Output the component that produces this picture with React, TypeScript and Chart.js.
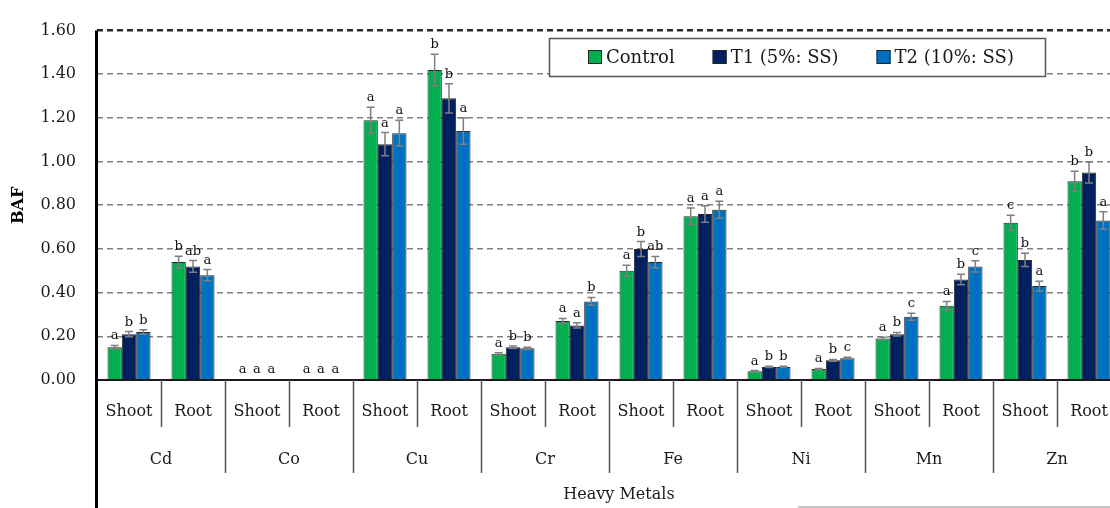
import React, { useEffect, useRef } from "react";
import { Chart, registerables } from "chart.js";

Chart.register(...registerables);

// Metals and plant parts on the two-level category axis
const metals = ["Cd", "Co", "Cu", "Cr", "Fe", "Ni", "Mn", "Zn"];
const plantParts = ["Shoot", "Root"];
const categories = metals.flatMap(() => plantParts);

// Y axis ticks
const yTickValues = [0, 0.2, 0.4, 0.6, 0.8, 1.0, 1.2, 1.4, 1.6];

const seriesNames = ["Control", "T1 (5%: SS)", "T2 (10%: SS)"];
const seriesColors = ["#00b050", "#002060", "#0070c0"];

// BAF means, order: Cd S/R, Co S/R, Cu S/R, Cr S/R, Fe S/R, Ni S/R, Mn S/R, Zn S/R
const controlValues = [0.15, 0.54, 0.004, 0.005, 1.19, 1.42, 0.12, 0.27, 0.5, 0.75, 0.04, 0.05, 0.19, 0.34, 0.72, 0.91];
const t1Values = [0.21, 0.52, 0.003, 0.004, 1.08, 1.29, 0.15, 0.25, 0.6, 0.76, 0.06, 0.09, 0.21, 0.46, 0.55, 0.95];
const t2Values = [0.22, 0.48, 0.003, 0.004, 1.13, 1.14, 0.145, 0.36, 0.54, 0.78, 0.06, 0.1, 0.29, 0.52, 0.43, 0.73];

// Standard errors
const controlErrors = [0.008, 0.027, 0, 0, 0.059, 0.072, 0.005, 0.012, 0.026, 0.038, 0.003, 0.003, 0.006, 0.02, 0.035, 0.046];
const t1Errors = [0.012, 0.027, 0, 0, 0.053, 0.067, 0.006, 0.012, 0.034, 0.038, 0.003, 0.004, 0.008, 0.024, 0.03, 0.048];
const t2Errors = [0.01, 0.026, 0, 0, 0.059, 0.06, 0.005, 0.018, 0.026, 0.039, 0.003, 0.004, 0.016, 0.026, 0.022, 0.04];

// Significance letters
const controlLetters = ["a", "b", "a", "a", "a", "b", "a", "a", "a", "a", "a", "a", "a", "a", "c", "b"];
const t1Letters = ["b", "ab", "a", "a", "a", "b", "b", "a", "b", "a", "b", "b", "b", "b", "b", "b"];
const t2Letters = ["b", "a", "a", "a", "a", "a", "b", "b", "ab", "a", "b", "c", "c", "c", "a", "a"];

const xTitle = "Heavy Metals";
const yTitle = "BAF";

const seriesValues = [controlValues, t1Values, t2Values];
const seriesErrors = [controlErrors, t1Errors, t2Errors];
const seriesLetters = [controlLetters, t1Letters, t2Letters];

const SERIF = "'DejaVu Serif', serif";

const decorPlugin = {
  id: "decor",
  afterDatasetsDraw(chart: any) {
    const ctx = chart.ctx;
    const y = chart.scales.y;
    ctx.save();
    // error bars
    seriesErrors.forEach((errs, d) => {
      const meta = chart.getDatasetMeta(d);
      meta.data.forEach((bar: any, i: number) => {
        const v = seriesValues[d][i];
        const e = errs[i];
        if (e > 0) {
          const yTop = y.getPixelForValue(v + e);
          const yBot = y.getPixelForValue(v - e);
          ctx.strokeStyle = "#7f7f7f";
          ctx.lineWidth = 1.5;
          ctx.beginPath();
          ctx.moveTo(bar.x, yTop);
          ctx.lineTo(bar.x, yBot);
          ctx.moveTo(bar.x - 4, yTop);
          ctx.lineTo(bar.x + 4, yTop);
          ctx.moveTo(bar.x - 4, yBot);
          ctx.lineTo(bar.x + 4, yBot);
          ctx.stroke();
        }
        // letter
        const top = y.getPixelForValue(v + e);
        ctx.fillStyle = "#111";
        ctx.font = `13px ${SERIF}`;
        ctx.textAlign = "center";
        ctx.textBaseline = "alphabetic";
        ctx.fillText(seriesLetters[d][i], bar.x, top - 6);
      });
    });
    ctx.restore();
  },
  afterDraw(chart: any) {
    const ctx = chart.ctx;
    const area = chart.chartArea;
    const x = chart.scales.x;
    const H = chart.height;
    ctx.save();

    // x axis line
    ctx.strokeStyle = "#1a1a1a";
    ctx.lineWidth = 2;
    ctx.beginPath();
    ctx.moveTo(area.left, area.bottom);
    ctx.lineTo(area.right, area.bottom);
    ctx.stroke();

    // category separators
    const step = (area.right - area.left) / categories.length;
    ctx.strokeStyle = "#555";
    ctx.lineWidth = 1.5;
    for (let i = 1; i < categories.length; i++) {
      const bx = Math.round(x.getPixelForValue(i) - step / 2) + 0.5;
      const len = i % 2 === 0 ? 93 : 47;
      ctx.beginPath();
      ctx.moveTo(bx, area.bottom);
      ctx.lineTo(bx, area.bottom + len);
      ctx.stroke();
    }

    // y axis line, running down through the label area
    ctx.strokeStyle = "#000";
    ctx.lineWidth = 3;
    ctx.beginPath();
    ctx.moveTo(area.left - 0.5, area.top);
    ctx.lineTo(area.left - 0.5, H);
    ctx.stroke();

    // part labels
    ctx.fillStyle = "#1a1a1a";
    ctx.textAlign = "center";
    ctx.textBaseline = "middle";
    ctx.font = `16px ${SERIF}`;
    categories.forEach((lab, i) => {
      ctx.fillText(lab, x.getPixelForValue(i), area.bottom + 32);
    });
    // metal labels
    metals.forEach((m, g) => {
      const cx = (x.getPixelForValue(g * 2) + x.getPixelForValue(g * 2 + 1)) / 2;
      ctx.fillText(m, cx, area.bottom + 80);
    });
    // axis title
    ctx.fillText(xTitle, 619, area.bottom + 115);

    // faint frame edge at the bottom
    ctx.strokeStyle = "#c8c8c8";
    ctx.lineWidth = 2;
    ctx.beginPath();
    ctx.moveTo(798, H - 1);
    ctx.lineTo(area.right, H - 1);
    ctx.stroke();

    // legend
    const lx = 549, ly = 38, lw = 496, lh = 38;
    ctx.fillStyle = "#fff";
    ctx.fillRect(lx, ly, lw, lh);
    ctx.strokeStyle = "#555";
    ctx.lineWidth = 1.5;
    ctx.strokeRect(lx + 0.5, ly + 0.5, lw, lh);
    ctx.font = `18px ${SERIF}`;
    ctx.textAlign = "left";
    ctx.textBaseline = "middle";
    let px = 588;
    const cy = ly + lh / 2;
    chart.data.datasets.forEach((ds: any) => {
      ctx.fillStyle = ds.backgroundColor;
      ctx.fillRect(px, cy - 7, 14, 14);
      ctx.strokeStyle = "#262626";
      ctx.lineWidth = 1;
      ctx.strokeRect(px + 0.5, cy - 6.5, 13, 13);
      ctx.fillStyle = "#1a1a1a";
      ctx.fillText(ds.label, px + 18, cy + 1);
      px += 18 + ctx.measureText(ds.label).width + 38;
    });

    ctx.restore();
  },
};

export default function App() {
  const canvasRef = useRef<HTMLCanvasElement | null>(null);

  useEffect(() => {
    const canvas = canvasRef.current;
    if (!canvas) return;
    const chart = new Chart(canvas, {
      type: "bar",
      data: {
        labels: categories,
        datasets: seriesNames.map((name, d) => ({
          label: name,
          data: seriesValues[d],
          backgroundColor: seriesColors[d],
          borderColor: "#262626",
          borderWidth: 1,
          barPercentage: 1,
          categoryPercentage: 0.672,
        })),
      },
      options: {
        responsive: false,
        animation: false,
        devicePixelRatio: 1,
        layout: { padding: { top: 18, right: 0, bottom: 0, left: 0 } },
        plugins: {
          legend: { display: false },
          tooltip: { enabled: false },
        },
        scales: {
          x: {
            grid: { display: false },
            border: { display: false },
            ticks: { display: false },
            afterFit: (s: any) => {
              s.height = 128;
            },
          },
          y: {
            min: 0,
            max: 1.6,
            afterBuildTicks: (s: any) => {
              s.ticks = yTickValues.map((v) => ({ value: v }));
            },
            ticks: {
              padding: 21,
              color: "#1a1a1a",
              font: { family: "DejaVu Serif", size: 16 },
              callback: (v: any) => Number(v).toFixed(2),
            },
            grid: {
              drawTicks: false,
              lineWidth: (c: any) => (c.tick && c.tick.value >= 1.599 ? 2.5 : 1.6),
              color: (c: any) =>
                !c.tick || c.tick.value === 0
                  ? "rgba(0,0,0,0)"
                  : c.tick.value >= 1.599
                  ? "#2a2a2a"
                  : "#808080",
            },
            border: { display: false, dash: [6, 4] },
            title: {
              display: true,
              text: yTitle,
              color: "#000",
              font: { family: "DejaVu Serif", size: 16, weight: "bold" },
              padding: { top: 9, bottom: 0 },
            },
            afterFit: (s: any) => {
              s.width = 97;
            },
          },
        },
      },
      plugins: [decorPlugin],
    });
    return () => chart.destroy();
  }, []);

  return (
    <div
      style={{
        position: "fixed",
        left: 0,
        top: 0,
        width: 1110,
        height: 508,
        overflow: "hidden",
        background: "#fff",
      }}
    >
      <canvas ref={canvasRef} width={1121} height={508} style={{ display: "block" }} />
    </div>
  );
}
